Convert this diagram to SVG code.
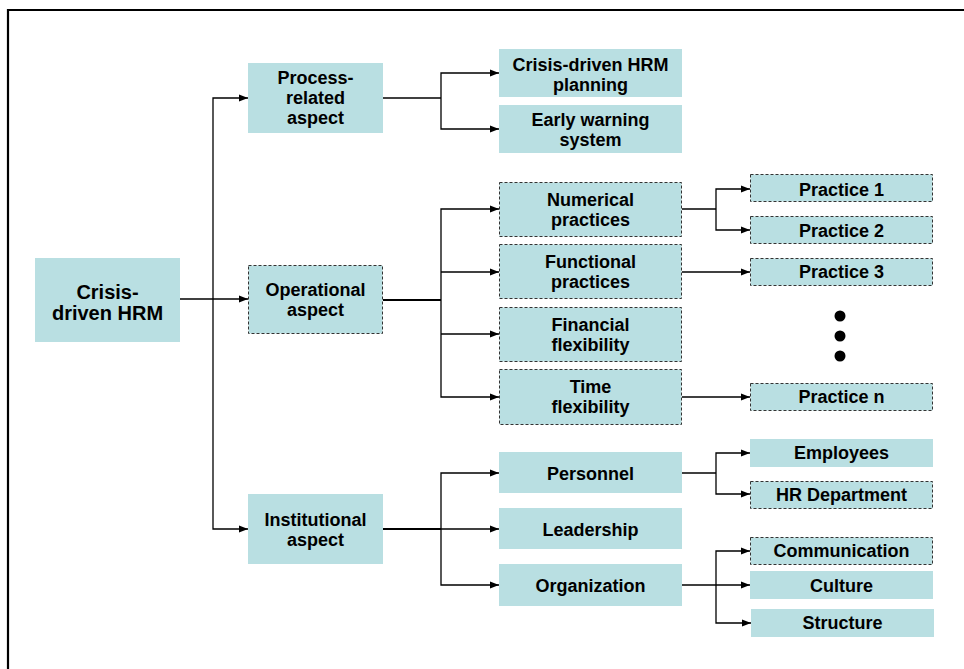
<svg xmlns="http://www.w3.org/2000/svg" width="964" height="669" viewBox="0 0 964 669">
  <defs>
    <marker id="arrow" markerWidth="9" markerHeight="8" refX="9" refY="4" orient="auto" markerUnits="userSpaceOnUse">
      <path d="M0,0.5 L9,4 L0,7.5 z" fill="#000"/>
    </marker>
    <style>
      .box { fill: #b9dfe2; }
      .dash { fill: #b9dfe2; stroke: #333; stroke-width: 1; stroke-dasharray: 3 2; }
      text { font-family: "Liberation Sans", Arial, sans-serif; font-weight: bold; font-size: 18px; fill: #000; text-anchor: middle; }
      .big { font-size: 20px; }
      .wire { fill: none; stroke: #000; stroke-width: 1.3; }
      .thick { stroke-width: 2; }
    </style>
  </defs>

  <rect width="964" height="669" fill="#fff"/>
  <!-- frame (open on right and bottom) -->
  <path d="M8,669 L8,10 L964,10" fill="none" stroke="#000" stroke-width="2.2"/>

  <!-- connectors -->
  <g id="connectors">
    <path class="wire" d="M180,299 L248,299" marker-end="url(#arrow)"/>
    <path class="wire" d="M213,299 L213,98 L248,98" marker-end="url(#arrow)"/>
    <path class="wire" d="M213,299 L213,529 L248,529" marker-end="url(#arrow)"/>

    <path class="wire" d="M383,98 L441,98"/>
    <path class="wire" d="M441,98 L441,73 L499,73" marker-end="url(#arrow)"/>
    <path class="wire" d="M441,98 L441,129 L499,129" marker-end="url(#arrow)"/>

    <path class="wire thick" d="M383,300 L441,300"/>
    <path class="wire" d="M441,300 L441,209 L499,209" marker-end="url(#arrow)"/>
    <path class="wire" d="M441,272 L499,272" marker-end="url(#arrow)"/>
    <path class="wire" d="M441,334 L499,334" marker-end="url(#arrow)"/>
    <path class="wire" d="M441,300 L441,397 L499,397" marker-end="url(#arrow)"/>

    <path class="wire thick" d="M383,529 L441,529"/>
    <path class="wire" d="M441,529 L441,473 L499,473" marker-end="url(#arrow)"/>
    <path class="wire" d="M441,529 L499,529" marker-end="url(#arrow)"/>
    <path class="wire" d="M441,529 L441,585 L499,585" marker-end="url(#arrow)"/>

    <path class="wire" d="M682,209 L716,209"/>
    <path class="wire" d="M716,209 L716,189 L750,189" marker-end="url(#arrow)"/>
    <path class="wire" d="M716,209 L716,230 L750,230" marker-end="url(#arrow)"/>
    <path class="wire" d="M682,272 L750,272" marker-end="url(#arrow)"/>
    <path class="wire" d="M682,397 L750,397" marker-end="url(#arrow)"/>

    <path class="wire" d="M682,473 L716,473"/>
    <path class="wire" d="M716,473 L716,453 L750,453" marker-end="url(#arrow)"/>
    <path class="wire" d="M716,473 L716,494 L750,494" marker-end="url(#arrow)"/>
    <path class="wire" d="M682,585 L750,585" marker-end="url(#arrow)"/>
    <path class="wire" d="M716,585 L716,551 L750,551" marker-end="url(#arrow)"/>
    <path class="wire" d="M716,585 L716,623 L751,623" marker-end="url(#arrow)"/>
  </g>

  <!-- root -->
  <g id="root">
    <rect class="box" x="35" y="258" width="145" height="84"/>
    <text class="big" x="107.5" y="299">Crisis-</text>
    <text class="big" x="107.5" y="320">driven HRM</text>
  </g>

  <!-- aspects -->
  <g id="process-aspect">
    <rect class="box" x="248" y="63" width="135" height="70"/>
    <text x="315.5" y="84">Process-</text>
    <text x="315.5" y="104">related</text>
    <text x="315.5" y="124">aspect</text>
  </g>
  <g id="operational-aspect">
    <rect class="dash" x="248.5" y="265.5" width="134" height="68"/>
    <text x="315.5" y="296">Operational</text>
    <text x="315.5" y="316">aspect</text>
  </g>
  <g id="institutional-aspect">
    <rect class="box" x="248" y="494" width="135" height="70"/>
    <text x="315.5" y="525.5">Institutional</text>
    <text x="315.5" y="545.5">aspect</text>
  </g>

  <!-- process-related children -->
  <g id="hrm-planning">
    <rect class="box" x="499" y="49" width="183" height="48"/>
    <text x="590.5" y="71">Crisis-driven HRM</text>
    <text x="590.5" y="91">planning</text>
  </g>
  <g id="early-warning">
    <rect class="box" x="499" y="105" width="183" height="48"/>
    <text x="590.5" y="126">Early warning</text>
    <text x="590.5" y="146">system</text>
  </g>

  <!-- operational children -->
  <g id="numerical">
    <rect class="dash" x="499.5" y="182.5" width="182" height="54"/>
    <text x="590.5" y="205.5">Numerical</text>
    <text x="590.5" y="225.5">practices</text>
  </g>
  <g id="functional">
    <rect class="dash" x="499.5" y="244.5" width="182" height="54"/>
    <text x="590.5" y="268">Functional</text>
    <text x="590.5" y="288">practices</text>
  </g>
  <g id="financial">
    <rect class="dash" x="499.5" y="307.5" width="182" height="54"/>
    <text x="590.5" y="330.5">Financial</text>
    <text x="590.5" y="350.5">flexibility</text>
  </g>
  <g id="time">
    <rect class="dash" x="499.5" y="369.5" width="182" height="55"/>
    <text x="590.5" y="392.5">Time</text>
    <text x="590.5" y="412.5">flexibility</text>
  </g>

  <!-- practices -->
  <g id="practice-1">
    <rect class="dash" x="750.5" y="174.5" width="182" height="27"/>
    <text x="841.5" y="195.5">Practice 1</text>
  </g>
  <g id="practice-2">
    <rect class="dash" x="750.5" y="216.5" width="182" height="27"/>
    <text x="841.5" y="236.5">Practice 2</text>
  </g>
  <g id="practice-3">
    <rect class="dash" x="750.5" y="258.5" width="182" height="27"/>
    <text x="841.5" y="277.5">Practice 3</text>
  </g>
  <g id="ellipsis">
    <circle cx="840" cy="316" r="5.5" fill="#000"/>
    <circle cx="840" cy="336" r="5.5" fill="#000"/>
    <circle cx="840" cy="356" r="5.5" fill="#000"/>
  </g>
  <g id="practice-n">
    <rect class="dash" x="750.5" y="383.5" width="182" height="27"/>
    <text x="841.5" y="403">Practice n</text>
  </g>

  <!-- institutional children -->
  <g id="personnel">
    <rect class="box" x="499" y="452" width="183" height="41"/>
    <text x="590.5" y="479.5">Personnel</text>
  </g>
  <g id="leadership">
    <rect class="box" x="499" y="508" width="183" height="41"/>
    <text x="590.5" y="535.5">Leadership</text>
  </g>
  <g id="organization">
    <rect class="box" x="499" y="564" width="183" height="42"/>
    <text x="590.5" y="591.5">Organization</text>
  </g>

  <g id="employees">
    <rect class="box" x="750" y="439" width="183" height="28"/>
    <text x="841.5" y="459">Employees</text>
  </g>
  <g id="hr-department">
    <rect class="dash" x="750.5" y="481.5" width="182" height="27"/>
    <text x="841.5" y="501">HR Department</text>
  </g>
  <g id="communication">
    <rect class="dash" x="750.5" y="537.5" width="182" height="27"/>
    <text x="841.5" y="557">Communication</text>
  </g>
  <g id="culture">
    <rect class="box" x="750" y="571" width="183" height="28"/>
    <text x="841.5" y="591.5">Culture</text>
  </g>
  <g id="structure">
    <rect class="box" x="751" y="609" width="183" height="28"/>
    <text x="842.5" y="629">Structure</text>
  </g>
</svg>
